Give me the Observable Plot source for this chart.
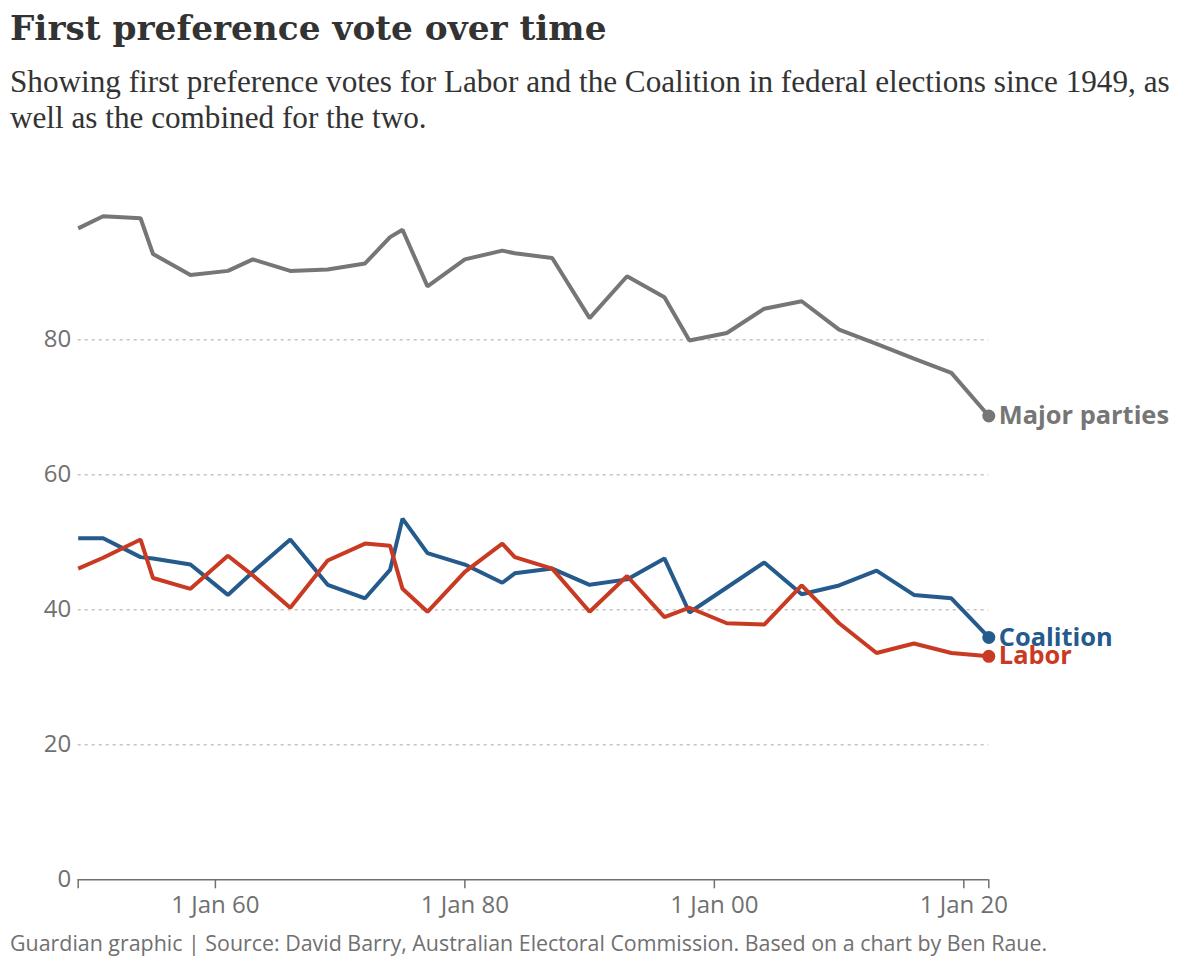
<!DOCTYPE html>
<html>
<head>
<meta charset="utf-8">
<script src="https://cdn.jsdelivr.net/npm/d3@7"></script>
<script src="https://cdn.jsdelivr.net/npm/@observablehq/plot@0.6"></script>
<style>
  html, body { margin: 0; padding: 0; background: #fff; }
  #wrap { position: relative; width: 1200px; height: 963px; overflow: hidden; }
  #title { position: absolute; left: 10px; top: 11px; margin: 0; font-family: "DejaVu Serif", serif; font-weight: bold; font-size: 34.3px; line-height: 34px; color: #333; white-space: nowrap; }
  #subtitle { position: absolute; left: 10px; top: 64px; margin: 0; font-family: "Liberation Serif", serif; font-size: 31.2px; line-height: 35.6px; color: #333; white-space: nowrap; }
  #chart { position: absolute; left: 0; top: 150px; }
  #caption { position: absolute; left: 10px; top: 932px; margin: 0; font-family: "Open Sans", sans-serif; font-size: 21.4px; line-height: 22px; color: #707070; white-space: nowrap; }
</style>
</head>
<body>
<div id="wrap">
  <h1 id="title">First preference vote over time</h1>
  <p id="subtitle">Showing first preference votes for Labor and the Coalition in federal elections since 1949, as<br>well as the combined for the two.</p>
  <div id="chart"></div>
  <p id="caption">Guardian graphic | Source: David Barry, Australian Electoral Commission. Based on a chart by Ben Raue.</p>
</div>
<script>
const years = [1949, 1951, 1954, 1955, 1958, 1961, 1963, 1966, 1969, 1972, 1974, 1975, 1977, 1980, 1983, 1984, 1987, 1990, 1993, 1996, 1998, 2001, 2004, 2007, 2010, 2013, 2016, 2019, 2022];
const majorParties = [96.5, 98.3, 98.0, 92.7, 89.6, 90.2, 91.9, 90.2, 90.4, 91.3, 95.2, 96.3, 87.9, 91.9, 93.2, 92.8, 92.1, 83.2, 89.4, 86.3, 79.9, 81.0, 84.6, 85.7, 81.5, 79.4, 77.2, 75.1, 68.7];
const coalition = [50.6, 50.6, 47.8, 47.6, 46.7, 42.2, 45.6, 50.4, 43.7, 41.7, 45.9, 53.5, 48.4, 46.7, 44.0, 45.4, 46.1, 43.7, 44.5, 47.6, 39.6, 43.3, 47.0, 42.3, 43.6, 45.8, 42.2, 41.7, 35.9];
const labor = [46.1, 47.7, 50.4, 44.7, 43.1, 48.0, 45.1, 40.3, 47.3, 49.8, 49.5, 43.1, 39.7, 45.6, 49.8, 47.8, 46.1, 39.7, 45.0, 38.9, 40.3, 38.0, 37.8, 43.6, 38.0, 33.6, 35.0, 33.6, 33.1];
const seriesNames = ["Major parties", "Coalition", "Labor"];
const seriesColors = ["#767676", "#245a8c", "#c93a22"];
const yTicks = [0, 20, 40, 60, 80];
const gridTicks = [20, 40, 60, 80];
const xTickYears = [1949, 1960, 1980, 2000, 2020, 2022];
const xLabelYears = [1960, 1980, 2000, 2020];

const seriesValues = [majorParties, coalition, labor];
const rows = [];
seriesNames.forEach((name, i) => {
  years.forEach((yr, j) => rows.push({series: name, date: new Date(Date.UTC(yr, 0, 1)), value: seriesValues[i][j]}));
});
const lastRows = seriesNames.map(name => rows.filter(r => r.series === name).at(-1));
const fmt = d3.utcFormat("%-d %b %y");
const xDomain = [new Date(Date.UTC(years[0], 0, 1)), new Date(Date.UTC(years.at(-1), 0, 1))];

const chart = Plot.plot({
  width: 1200,
  height: 770,
  marginTop: 65.7,
  marginBottom: 40.7,
  marginLeft: 77.7,
  marginRight: 211.7,
  style: {fontFamily: "'Open Sans', sans-serif", background: "transparent", overflow: "visible"},
  x: {type: "utc", domain: xDomain},
  y: {domain: [0, d3.max(majorParties)]},
  color: {domain: seriesNames, range: seriesColors},
  marks: [
    Plot.gridY(gridTicks, {stroke: "#c4c4c4", strokeOpacity: 1, strokeWidth: 1.5, strokeDasharray: "3,4"}),
    Plot.ruleY([0], {stroke: "#707070", strokeWidth: 1.5}),
    Plot.axisY({ticks: yTicks, tickSize: 0, tickPadding: 7, fontSize: 24, fill: "#707070", label: null}),
    Plot.axisX({
      ticks: xTickYears.map(y => new Date(Date.UTC(y, 0, 1))),
      tickFormat: d => xLabelYears.includes(d.getUTCFullYear()) ? fmt(d) : "",
      tickSize: 9, tickPadding: 7, fontSize: 24, fill: "#707070", stroke: "#707070", strokeWidth: 1.5, label: null
    }),
    Plot.line(rows, {x: "date", y: "value", z: "series", stroke: "series", strokeWidth: 4, strokeLinejoin: "miter", strokeLinecap: "butt"}),
    Plot.dot(lastRows, {x: "date", y: "value", fill: "series", r: 6.5}),
    Plot.text(lastRows, {x: "date", y: "value", text: "series", fill: "series", dx: 10, textAnchor: "start", fontSize: 25.4, fontWeight: "bold"})
  ]
});
document.getElementById("chart").appendChild(chart);
</script>
</body>
</html>
